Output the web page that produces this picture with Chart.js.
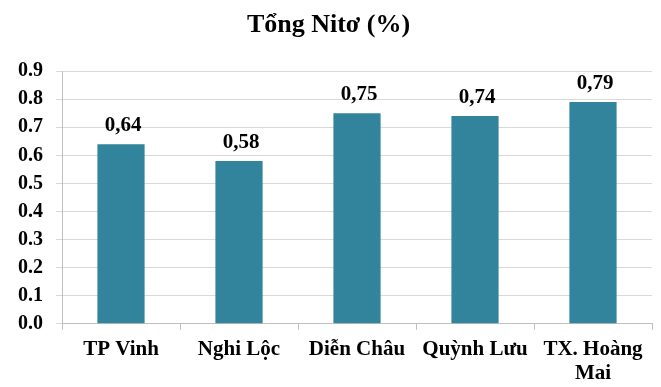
<!DOCTYPE html>
<html>
<head>
<meta charset="utf-8">
<script src="https://cdn.jsdelivr.net/npm/chart.js@4/dist/chart.umd.min.js"></script>
<style>
  html, body { margin: 0; padding: 0; background: #ffffff; }
  #wrap { width: 661px; height: 387px; position: relative; }
</style>
</head>
<body>
<div id="wrap"><canvas id="c"></canvas></div>
<script>
// Total nitrogen content by locality
const districts = ['TP Vinh', 'Nghi Lộc', 'Diễn Châu', 'Quỳnh Lưu', ['TX. Hoàng', 'Mai']];
const nitrogenPct = [0.64, 0.58, 0.75, 0.74, 0.79];
const yTickValues = [0.0, 0.1, 0.2, 0.3, 0.4, 0.5, 0.6, 0.7, 0.8, 0.9];

const serif = "'Liberation Serif', 'Times New Roman', serif";

// Writes each bar's value above it, with a decimal comma
const valueLabels = {
  id: 'valueLabels',
  afterDatasetsDraw(chart) {
    const ctx = chart.ctx;
    const meta = chart.getDatasetMeta(0);
    ctx.save();
    ctx.font = 'bold 21px ' + serif;
    ctx.fillStyle = '#000000';
    ctx.textAlign = 'center';
    ctx.textBaseline = 'alphabetic';
    meta.data.forEach((bar, i) => {
      const v = chart.data.datasets[0].data[i];
      ctx.fillText(v.toFixed(2).replace('.', ','), bar.x + 2, bar.y - 13);
    });
    ctx.restore();
  }
};

new Chart(document.getElementById('c'), {
  type: 'bar',
  data: {
    labels: districts,
    datasets: [{
      data: nitrogenPct,
      backgroundColor: '#31849b',
      borderWidth: 0,
      categoryPercentage: 1.0,
      barPercentage: 0.4
    }]
  },
  options: {
    responsive: true,
    maintainAspectRatio: false,
    devicePixelRatio: 1,
    animation: false,
    layout: { padding: { left: 5, right: 9, top: 0, bottom: -7 } },
    plugins: {
      legend: { display: false },
      tooltip: { enabled: false },
      title: {
        display: true,
        text: 'Tổng Nitơ (%)',
        color: '#000000',
        font: { family: serif, size: 26, weight: 'bold', lineHeight: 1.2 },
        padding: { top: 10, bottom: 30 }
      }
    },
    scales: {
      x: {
        grid: {
          offset: true,
          drawOnChartArea: false,
          drawTicks: true,
          tickLength: 6,
          color: '#bfbfbf'
        },
        border: { display: true, color: '#bfbfbf', width: 1 },
        ticks: {
          color: '#000000',
          font: { family: serif, size: 21, weight: 'bold', lineHeight: 1.15 },
          maxRotation: 0,
          minRotation: 0,
          autoSkip: false,
          padding: 8
        }
      },
      y: {
        min: 0,
        max: 0.9,
        afterBuildTicks(scale) {
          scale.ticks = yTickValues.map(v => ({ value: v }));
        },
        grid: {
          color: '#d9d9d9',
          drawTicks: true,
          tickLength: 6
        },
        border: { display: true, color: '#bfbfbf', width: 1 },
        ticks: {
          color: '#000000',
          font: { family: serif, size: 20, weight: 'bold' },
          padding: 13,
          callback: v => Number(v).toFixed(1)
        }
      }
    }
  },
  plugins: [valueLabels]
});
</script>
</body>
</html>
